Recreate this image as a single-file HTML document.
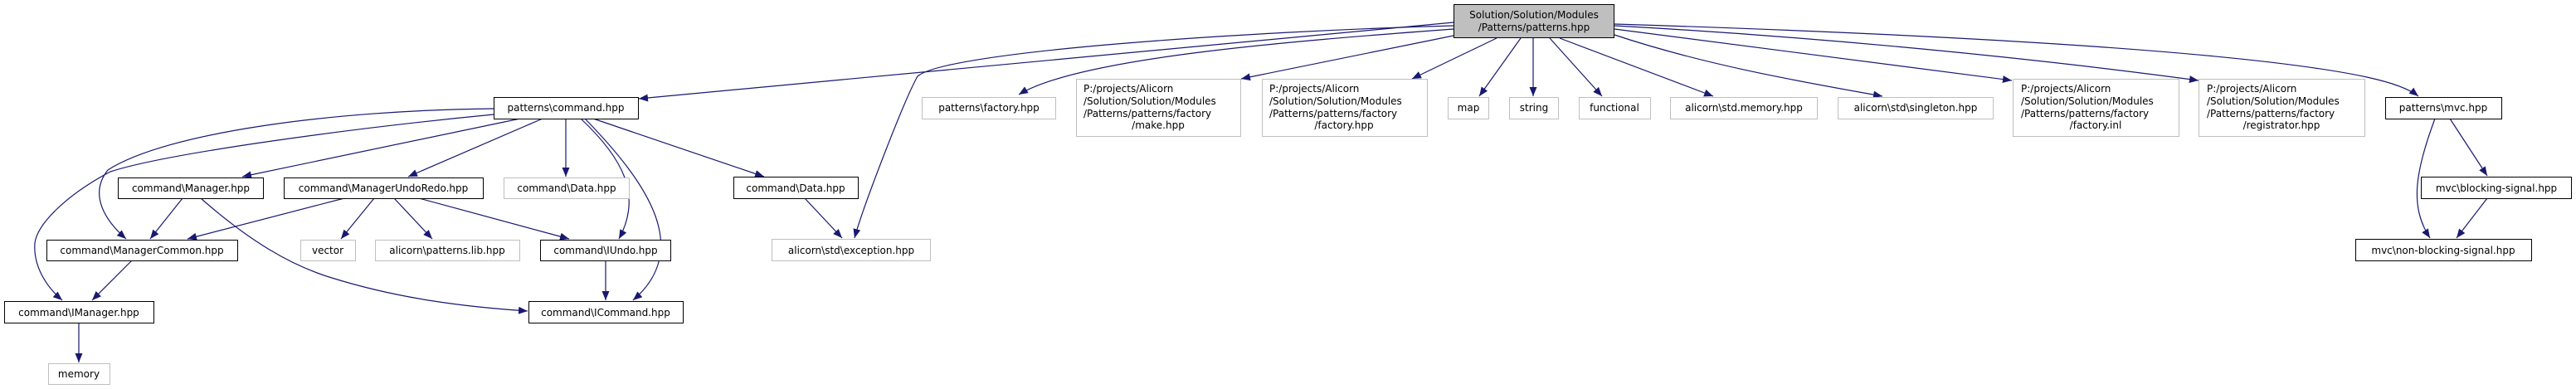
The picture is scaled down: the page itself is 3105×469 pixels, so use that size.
<!DOCTYPE html>
<html><head><meta charset="utf-8"><style>
html,body{margin:0;padding:0;background:#fff;}
svg{display:block;}
text{font-family:"DejaVu Sans","Liberation Sans",sans-serif;font-size:12px;fill:#000;}
</style></head><body>
<svg width="3105" height="469" viewBox="0 0 3105 469" xmlns="http://www.w3.org/2000/svg">
<defs>
<marker id="a" markerUnits="userSpaceOnUse" markerWidth="12" markerHeight="10" refX="11" refY="4.5" orient="auto">
<path d="M0,0 L11,4.5 L0,9 Z" fill="#191970"/>
</marker>
</defs>
<g fill="none" stroke="#191970" stroke-width="1.2" marker-end="url(#a)">
<!-- from Solution -->
<path d="M1752,27 L770,119"/>
<path d="M1752,31 C1500,38 1140,62 1106,92 C1090,120 1040,250 1030,287"/>
<path d="M1752,35 C1550,50 1300,70 1228,114"/>
<path d="M1752,43 L1496,95"/>
<path d="M1804,46 L1702,95"/>
<path d="M1833,46 L1783,116"/>
<path d="M1848,46 L1848,116"/>
<path d="M1868,46 L1931,116"/>
<path d="M1880,46 L2065,116"/>
<path d="M1946,42 C2060,80 2180,100 2269,116"/>
<path d="M1946,35 L2425,97"/>
<path d="M1946,31 C2200,45 2450,70 2650,97"/>
<path d="M1946,29 C2300,40 2700,60 2853,93 C2885,100 2905,108 2915,116"/>
<!-- from command.hpp -->
<path d="M595,131 C400,133 200,160 130,205 C110,230 120,260 152,288"/>
<path d="M595,138 C420,155 200,185 133,207 C80,235 45,270 42,293 C40,320 55,345 75,362"/>
<path d="M627,143 L292,213"/>
<path d="M654,143 L492,213"/>
<path d="M682,143 L682,213"/>
<path d="M700,143 C750,190 775,235 746,288"/>
<path d="M705,143 C780,220 835,300 763,362"/>
<path d="M715,143 L921,213"/>
<!-- Manager -->
<path d="M220,239 L181,288"/>
<path d="M242,239 C300,290 350,320 400,335 C480,360 560,370 636,375"/>
<!-- ManagerUndoRedo -->
<path d="M415,239 L226,288"/>
<path d="M451,239 L411,288"/>
<path d="M475,239 L521,288"/>
<path d="M505,239 L686,288"/>
<!-- misc -->
<path d="M730,314 L730,362"/>
<path d="M159,314 L111,362"/>
<path d="M95,389 L95,437"/>
<path d="M970,239 L1015,287"/>
<!-- mvc -->
<path d="M2935,143 C2910,210 2905,250 2929,287"/>
<path d="M2953,143 L2998,212"/>
<path d="M2998,239 L2961,287"/>
</g>
<g stroke-width="1">
<rect x="1752.5" y="5.5" width="193" height="40" fill="#bfbfbf" stroke="#000"/>
<rect x="595.5" y="117.5" width="174" height="26" fill="#fff" stroke="#000"/>
<rect x="1111.5" y="117.5" width="161" height="26" fill="#fff" stroke="#bfbfbf"/>
<rect x="1297.5" y="95.5" width="198" height="69" fill="#fff" stroke="#bfbfbf"/>
<rect x="1521.5" y="95.5" width="199" height="69" fill="#fff" stroke="#bfbfbf"/>
<rect x="1745.5" y="117.5" width="49" height="26" fill="#fff" stroke="#bfbfbf"/>
<rect x="1819.5" y="117.5" width="59" height="26" fill="#fff" stroke="#bfbfbf"/>
<rect x="1903.5" y="117.5" width="86" height="26" fill="#fff" stroke="#bfbfbf"/>
<rect x="2013.5" y="117.5" width="177" height="26" fill="#fff" stroke="#bfbfbf"/>
<rect x="2215.5" y="117.5" width="187" height="26" fill="#fff" stroke="#bfbfbf"/>
<rect x="2426.5" y="95.5" width="200" height="69" fill="#fff" stroke="#bfbfbf"/>
<rect x="2650.5" y="95.5" width="200" height="69" fill="#fff" stroke="#bfbfbf"/>
<rect x="2875.5" y="117.5" width="140" height="26" fill="#fff" stroke="#000"/>
<rect x="142.5" y="214.5" width="175" height="25" fill="#fff" stroke="#000"/>
<rect x="342.5" y="214.5" width="240" height="25" fill="#fff" stroke="#000"/>
<rect x="607.5" y="214.5" width="151" height="25" fill="#fff" stroke="#bfbfbf"/>
<rect x="884.5" y="213.5" width="150" height="26" fill="#fff" stroke="#000"/>
<rect x="2918.5" y="213.5" width="181" height="26" fill="#fff" stroke="#000"/>
<rect x="56.5" y="289.5" width="230" height="25" fill="#fff" stroke="#000"/>
<rect x="362.5" y="289.5" width="66" height="25" fill="#fff" stroke="#bfbfbf"/>
<rect x="452.5" y="289.5" width="174" height="25" fill="#fff" stroke="#bfbfbf"/>
<rect x="651.5" y="289.5" width="157" height="25" fill="#fff" stroke="#000"/>
<rect x="930.5" y="288.5" width="191" height="26" fill="#fff" stroke="#bfbfbf"/>
<rect x="2839.5" y="288.5" width="212" height="26" fill="#fff" stroke="#000"/>
<rect x="5.5" y="363.5" width="180" height="26" fill="#fff" stroke="#000"/>
<rect x="637.5" y="363.5" width="186" height="26" fill="#fff" stroke="#000"/>
<rect x="58.5" y="438.5" width="74" height="25" fill="#fff" stroke="#bfbfbf"/>
</g>
<g text-anchor="middle">
<text x="1849" y="22">Solution/Solution/Modules</text>
<text x="1849" y="37">/Patterns/patterns.hpp</text>
<text x="682" y="134">patterns\command.hpp</text>
<text x="1192" y="134">patterns\factory.hpp</text>
<text x="1770" y="134">map</text>
<text x="1849" y="134">string</text>
<text x="1946" y="134">functional</text>
<text x="2102" y="134">alicorn\std.memory.hpp</text>
<text x="2309" y="134">alicorn\std\singleton.hpp</text>
<text x="2945" y="134">patterns\mvc.hpp</text>
<text x="230" y="231">command\Manager.hpp</text>
<text x="462" y="231">command\ManagerUndoRedo.hpp</text>
<text x="683" y="231">command\Data.hpp</text>
<text x="959" y="231">command\Data.hpp</text>
<text x="3009" y="231">mvc\blocking-signal.hpp</text>
<text x="171" y="306">command\ManagerCommon.hpp</text>
<text x="395" y="306">vector</text>
<text x="539" y="306">alicorn\patterns.lib.hpp</text>
<text x="730" y="306">command\IUndo.hpp</text>
<text x="1026" y="306">alicorn\std\exception.hpp</text>
<text x="2945" y="306">mvc\non-blocking-signal.hpp</text>
<text x="95" y="381">command\IManager.hpp</text>
<text x="730" y="381">command\ICommand.hpp</text>
<text x="95" y="455">memory</text>
</g>
<g>
<text x="1306" y="111">P:/projects/Alicorn</text>
<text x="1306" y="126">/Solution/Solution/Modules</text>
<text x="1306" y="141">/Patterns/patterns/factory</text>
<text x="1396" y="155" text-anchor="middle">/make.hpp</text>
<text x="1530" y="111">P:/projects/Alicorn</text>
<text x="1530" y="126">/Solution/Solution/Modules</text>
<text x="1530" y="141">/Patterns/patterns/factory</text>
<text x="1620" y="155" text-anchor="middle">/factory.hpp</text>
<text x="2436" y="111">P:/projects/Alicorn</text>
<text x="2436" y="126">/Solution/Solution/Modules</text>
<text x="2436" y="141">/Patterns/patterns/factory</text>
<text x="2526" y="155" text-anchor="middle">/factory.inl</text>
<text x="2660" y="111">P:/projects/Alicorn</text>
<text x="2660" y="126">/Solution/Solution/Modules</text>
<text x="2660" y="141">/Patterns/patterns/factory</text>
<text x="2750" y="155" text-anchor="middle">/registrator.hpp</text>
</g>
</svg>
</body></html>
